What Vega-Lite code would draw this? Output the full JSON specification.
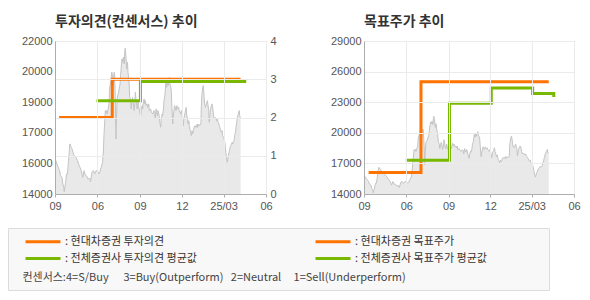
{
  "$schema": "https://vega.github.io/schema/vega-lite/v6.json",
  "padding": {"left": 7, "top": 15, "right": 5, "bottom": 6},
  "background": "white",
  "config": {
    "view": {"stroke": null},
    "axis": {"labelFont": "Liberation Sans", "labelFontSize": 11, "labelColor": "#555555", "title": null, "domainColor": "#adadad", "gridColor": "#ebebeb", "tickColor": "#adadad"},
    "title": {"font": "Noto Sans CJK KR", "fontSize": 14, "fontWeight": "bold", "color": "#333333", "anchor": "start", "frame": "group", "offset": 6}
  },
  "datasets": {
    "price": [
      {"d":"2024-03-01","p":15660},{"d":"2024-03-03","p":15740},{"d":"2024-03-05","p":15570},{"d":"2024-03-08","p":15400},{"d":"2024-03-11","p":15220},{"d":"2024-03-13","p":14960},{"d":"2024-03-16","p":14870},{"d":"2024-03-18","p":14520},{"d":"2024-03-20","p":14350},{"d":"2024-03-21","p":14120},{"d":"2024-03-24","p":14610},{"d":"2024-03-26","p":15050},{"d":"2024-03-28","p":15050},{"d":"2024-03-30","p":15660},
      {"d":"2024-04-01","p":16270},{"d":"2024-04-02","p":16620},{"d":"2024-04-05","p":16440},{"d":"2024-04-07","p":16350},{"d":"2024-04-10","p":16090},{"d":"2024-04-13","p":15970},{"d":"2024-04-15","p":15920},{"d":"2024-04-19","p":15740},{"d":"2024-04-21","p":15570},{"d":"2024-04-24","p":15400},{"d":"2024-04-27","p":15220},{"d":"2024-04-30","p":14870},
      {"d":"2024-05-03","p":15220},{"d":"2024-05-06","p":14960},{"d":"2024-05-09","p":14930},{"d":"2024-05-11","p":14790},{"d":"2024-05-15","p":14820},{"d":"2024-05-17","p":14640},{"d":"2024-05-20","p":15140},{"d":"2024-05-23","p":15220},{"d":"2024-05-26","p":15050},{"d":"2024-05-29","p":15220},
      {"d":"2024-06-01","p":15220},{"d":"2024-06-04","p":15050},{"d":"2024-06-06","p":15140},{"d":"2024-06-09","p":15400},{"d":"2024-06-12","p":15660},{"d":"2024-06-14","p":16350},{"d":"2024-06-15","p":17050},{"d":"2024-06-17","p":17920},{"d":"2024-06-18","p":18360},{"d":"2024-06-19","p":18270},{"d":"2024-06-21","p":18360},{"d":"2024-06-22","p":18180},{"d":"2024-06-24","p":18450},{"d":"2024-06-26","p":18710},{"d":"2024-06-27","p":19490},{"d":"2024-06-30","p":19930},
      {"d":"2024-07-02","p":20370},{"d":"2024-07-04","p":20100},{"d":"2024-07-05","p":19670},{"d":"2024-07-07","p":20370},{"d":"2024-07-08","p":20280},{"d":"2024-07-10","p":18620},{"d":"2024-07-11","p":16880},{"d":"2024-07-13","p":18620},{"d":"2024-07-14","p":19060},{"d":"2024-07-16","p":19230},{"d":"2024-07-18","p":19490},{"d":"2024-07-20","p":19750},{"d":"2024-07-21","p":20190},{"d":"2024-07-23","p":20800},{"d":"2024-07-24","p":21060},{"d":"2024-07-26","p":20890},{"d":"2024-07-27","p":21150},{"d":"2024-07-29","p":20800},{"d":"2024-07-30","p":21410},{"d":"2024-07-31","p":21620},
      {"d":"2024-08-02","p":21060},{"d":"2024-08-03","p":20540},{"d":"2024-08-05","p":20890},{"d":"2024-08-06","p":20370},{"d":"2024-08-08","p":20020},{"d":"2024-08-09","p":19490},{"d":"2024-08-10","p":19060},{"d":"2024-08-12","p":18880},{"d":"2024-08-13","p":18450},{"d":"2024-08-15","p":18880},{"d":"2024-08-16","p":19060},{"d":"2024-08-18","p":18710},{"d":"2024-08-19","p":18360},{"d":"2024-08-21","p":18710},{"d":"2024-08-22","p":19320},{"d":"2024-08-23","p":19060},{"d":"2024-08-25","p":18620},{"d":"2024-08-26","p":18450},{"d":"2024-08-28","p":18880},{"d":"2024-08-29","p":18620},{"d":"2024-08-31","p":18360},
      {"d":"2024-09-01","p":18180},{"d":"2024-09-03","p":18100},{"d":"2024-09-04","p":18450},{"d":"2024-09-06","p":18620},{"d":"2024-09-07","p":18450},{"d":"2024-09-08","p":18710},{"d":"2024-09-10","p":18970},{"d":"2024-09-11","p":18710},{"d":"2024-09-13","p":18880},{"d":"2024-09-14","p":18620},{"d":"2024-09-16","p":18710},{"d":"2024-09-17","p":18620},{"d":"2024-09-18","p":18530},{"d":"2024-09-20","p":18710},{"d":"2024-09-21","p":18360},{"d":"2024-09-24","p":18450},{"d":"2024-09-26","p":18270},{"d":"2024-09-29","p":18180},
      {"d":"2024-10-01","p":18360},{"d":"2024-10-03","p":18270},{"d":"2024-10-04","p":17920},{"d":"2024-10-06","p":18450},{"d":"2024-10-07","p":18270},{"d":"2024-10-09","p":18100},{"d":"2024-10-10","p":18360},{"d":"2024-10-12","p":18180},{"d":"2024-10-13","p":17920},{"d":"2024-10-14","p":17750},{"d":"2024-10-16","p":17490},{"d":"2024-10-17","p":17920},{"d":"2024-10-19","p":18180},{"d":"2024-10-20","p":18100},{"d":"2024-10-22","p":18450},{"d":"2024-10-23","p":18880},{"d":"2024-10-25","p":19140},{"d":"2024-10-26","p":19490},{"d":"2024-10-27","p":19840},{"d":"2024-10-29","p":19580},{"d":"2024-10-30","p":19930},
      {"d":"2024-11-01","p":19670},{"d":"2024-11-02","p":19930},{"d":"2024-11-04","p":20100},{"d":"2024-11-05","p":19750},{"d":"2024-11-07","p":19580},{"d":"2024-11-08","p":19320},{"d":"2024-11-09","p":18620},{"d":"2024-11-11","p":17660},{"d":"2024-11-12","p":18010},{"d":"2024-11-14","p":18450},{"d":"2024-11-15","p":18620},{"d":"2024-11-17","p":18530},{"d":"2024-11-18","p":18360},{"d":"2024-11-20","p":18620},{"d":"2024-11-21","p":18530},{"d":"2024-11-22","p":18450},{"d":"2024-11-24","p":18530},{"d":"2024-11-25","p":18360},{"d":"2024-11-27","p":18270},{"d":"2024-11-28","p":18180},{"d":"2024-11-30","p":18360},
      {"d":"2024-12-01","p":18180},{"d":"2024-12-03","p":17830},{"d":"2024-12-04","p":17570},{"d":"2024-12-05","p":17920},{"d":"2024-12-07","p":18180},{"d":"2024-12-08","p":18270},{"d":"2024-12-10","p":18530},{"d":"2024-12-11","p":18180},{"d":"2024-12-13","p":17920},{"d":"2024-12-14","p":17660},{"d":"2024-12-16","p":17830},{"d":"2024-12-17","p":17570},{"d":"2024-12-18","p":17400},{"d":"2024-12-20","p":17230},{"d":"2024-12-21","p":17050},{"d":"2024-12-23","p":17310},{"d":"2024-12-24","p":17140},{"d":"2024-12-26","p":17310},{"d":"2024-12-27","p":17490},{"d":"2024-12-29","p":17570},{"d":"2024-12-30","p":17490},{"d":"2024-12-31","p":17570},
      {"d":"2025-01-02","p":17490},{"d":"2025-01-03","p":17660},{"d":"2025-01-04","p":17490},{"d":"2025-01-06","p":17660},{"d":"2025-01-08","p":17570},{"d":"2025-01-11","p":17660},{"d":"2025-01-12","p":18620},{"d":"2025-01-13","p":19140},{"d":"2025-01-15","p":19580},{"d":"2025-01-16","p":19670},{"d":"2025-01-17","p":19400},{"d":"2025-01-18","p":19060},{"d":"2025-01-19","p":18710},{"d":"2025-01-21","p":18530},{"d":"2025-01-22","p":18620},{"d":"2025-01-24","p":18800},{"d":"2025-01-25","p":18880},{"d":"2025-01-26","p":18710},{"d":"2025-01-28","p":18360},{"d":"2025-01-29","p":17750},{"d":"2025-01-31","p":18270},
      {"d":"2025-02-01","p":18450},{"d":"2025-02-03","p":18620},{"d":"2025-02-04","p":18710},{"d":"2025-02-06","p":18450},{"d":"2025-02-07","p":18180},{"d":"2025-02-08","p":18010},{"d":"2025-02-10","p":17920},{"d":"2025-02-11","p":18010},{"d":"2025-02-13","p":17920},{"d":"2025-02-14","p":17830},{"d":"2025-02-16","p":17920},{"d":"2025-02-17","p":17750},{"d":"2025-02-19","p":17660},{"d":"2025-02-20","p":17570},{"d":"2025-02-21","p":17490},{"d":"2025-02-23","p":17310},{"d":"2025-02-24","p":17230},{"d":"2025-02-26","p":17310},{"d":"2025-02-27","p":17050},
      {"d":"2025-03-01","p":16960},{"d":"2025-03-02","p":16880},{"d":"2025-03-04","p":16700},{"d":"2025-03-05","p":16440},{"d":"2025-03-06","p":16180},{"d":"2025-03-08","p":15830},{"d":"2025-03-09","p":15660},{"d":"2025-03-11","p":15920},{"d":"2025-03-12","p":16090},{"d":"2025-03-14","p":16270},{"d":"2025-03-15","p":16440},{"d":"2025-03-17","p":16530},{"d":"2025-03-18","p":16620},{"d":"2025-03-20","p":16700},{"d":"2025-03-21","p":16620},{"d":"2025-03-22","p":16700},{"d":"2025-03-24","p":16790},{"d":"2025-03-25","p":17050},{"d":"2025-03-27","p":17230},{"d":"2025-03-28","p":17490},{"d":"2025-03-30","p":17830},{"d":"2025-03-31","p":18010},
      {"d":"2025-04-02","p":18180},{"d":"2025-04-04","p":18360},{"d":"2025-04-05","p":18100},{"d":"2025-04-06","p":18010},{"d":"2025-04-07","p":18010}
    ],
    "opinion": [
      {"d":"2024-03-10","v":2,"s":"현대차증권 투자의견"},
      {"d":"2024-07-03","v":3,"s":"현대차증권 투자의견"},
      {"d":"2025-04-07","v":3,"s":"현대차증권 투자의견"},
      {"d":"2024-05-30","v":2.44,"s":"전체증권사 투자의견 평균값"},
      {"d":"2024-09-02","v":2.94,"s":"전체증권사 투자의견 평균값"},
      {"d":"2025-04-16","v":3.0,"s":"전체증권사 투자의견 평균값"}
    ],
    "target": [
      {"d":"2024-03-11","v":16100,"s":"현대차증권 목표주가"},
      {"d":"2024-07-03","v":25000,"s":"현대차증권 목표주가"},
      {"d":"2025-04-07","v":25000,"s":"현대차증권 목표주가"},
      {"d":"2024-05-31","v":17300,"s":"전체증권사 목표주가 평균값"},
      {"d":"2024-09-03","v":22900,"s":"전체증권사 목표주가 평균값"},
      {"d":"2024-12-03","v":24400,"s":"전체증권사 목표주가 평균값"},
      {"d":"2025-03-03","v":23850,"s":"전체증권사 목표주가 평균값"},
      {"d":"2025-04-18","v":23500,"s":"전체증권사 목표주가 평균값"}
    ]
  },
  "spacing": 53,
  "hconcat": [
    {
      "width": 211,
      "height": 153,
      "title": {"text": "투자의견(컨센서스) 추이"},
      "layer": [
        {
          "data": {"name": "price"},
          "mark": {"type": "area", "color": "#e0e0e0", "clip": true, "line": {"color": "#c4c4c4", "strokeWidth": 1}},
          "encoding": {
            "x": {"field": "d", "type": "temporal",
              "scale": {"type": "utc", "domain": [{"year": 2024, "month": 3, "date": 1, "utc": true}, {"year": 2025, "month": 6, "date": 1, "utc": true}]},
              "axis": {"orient": "bottom", "values": [{"year": 2024, "month": 3, "date": 1, "utc": true}, {"year": 2024, "month": 6, "date": 1, "utc": true}, {"year": 2024, "month": 9, "date": 1, "utc": true}, {"year": 2024, "month": 12, "date": 1, "utc": true}, {"year": 2025, "month": 3, "date": 1, "utc": true}, {"year": 2025, "month": 6, "date": 1, "utc": true}],
                "labelExpr": "utcFormat(datum.value,'%Y-%m')=='2024-03' ? '09' : (utcFormat(datum.value,'%Y-%m')=='2025-03' ? '25/03' : utcFormat(datum.value,'%m'))",
                "grid": true, "zindex": 1, "tickSize": 3, "labelPadding": 3, "labelFlush": false, "labelOverlap": false}},
            "y": {"field": "p", "type": "quantitative",
              "scale": {"domain": [14000, 22000], "nice": false, "zero": false},
              "axis": {"orient": "left", "values": [14000, 15600, 17200, 18800, 20400, 22000], "labelExpr": "format(round(datum.value/1000)*1000,'d')", "grid": false, "ticks": false, "labelPadding": 3, "labelOverlap": false, "zindex": 1}}
          }
        },
        {
          "data": {"name": "opinion"},
          "mark": {"type": "line", "interpolate": "step-after", "strokeWidth": 3},
          "encoding": {
            "x": {"field": "d", "type": "temporal",
              "axis": {"orient": "top", "labels": false, "ticks": false, "grid": false, "domain": true}},
            "y": {"field": "v", "type": "quantitative",
              "scale": {"domain": [0, 4], "nice": false, "zero": false},
              "axis": {"orient": "right", "values": [0, 1, 2, 3, 4], "format": "d", "grid": true, "domain": false, "ticks": false, "labelPadding": 4, "labelOverlap": false, "zindex": 1}},
            "color": {"field": "s", "type": "nominal", "title": null,
              "scale": {"domain": ["현대차증권 투자의견", "전체증권사 투자의견 평균값", "현대차증권 목표주가", "전체증권사 목표주가 평균값"], "range": ["#ff7300", "#78b900", "#ff7300", "#78b900"]},
              "legend": {"orient": "none", "legendX": -47, "legendY": 187, "zindex": 2, "direction": "vertical", "columns": 2, "columnPadding": 108, "rowPadding": 4,
                "symbolType": "M-3.5,0H3.5", "symbolSize": 100, "symbolStrokeWidth": 3, "symbolOffset": 21.5, "labelOffset": 15.5,
                "labelFont": "Noto Sans CJK KR", "labelFontSize": 11, "labelColor": "#333333", "labelLimit": 300,
                "labelExpr": "': ' + datum.label",
                "padding": 7}},
            "strokeDash": {"datum": "consensus",
              "title": "\u200b\u00a0\u00a0\u00a0컨센서스:4=S/Buy\u00a0\u00a0\u00a0\u00a0\u00a0\u00a03=Buy(Outperform)\u00a0\u00a0\u00a02=Neutral\u00a0\u00a0\u00a0\u00a0\u00a01=Sell(Underperform)",
              "scale": {"range": [[1, 0]]},
              "legend": {"orient": "none", "legendX": -47, "legendY": 187, "zindex": 0,
                "titleOrient": "left", "titleAnchor": "end", "titlePadding": 88,
                "titleFont": "Noto Sans CJK KR", "titleFontSize": 11, "titleFontWeight": "normal", "titleColor": "#444444", "titleLimit": 600,
                "symbolType": "square", "symbolSize": 2304, "symbolOpacity": 0, "symbolStrokeWidth": 0, "symbolStrokeColor": "transparent", "symbolFillColor": "transparent",
                "labelExpr": "''", "labelOffset": 0,
                "padding": 7, "fillColor": "#f8f8f8", "strokeColor": "#dcdcdc"}}
          }
        }
      ],
      "resolve": {"scale": {"y": "independent"}, "axis": {"x": "independent"}}
    },
    {
      "width": 210,
      "height": 153,
      "title": {"text": "목표주가 추이"},
      "layer": [
        {
          "data": {"name": "price"},
          "mark": {"type": "area", "color": "#e0e0e0", "clip": true, "line": {"color": "#c4c4c4", "strokeWidth": 1}},
          "encoding": {
            "x": {"field": "d", "type": "temporal",
              "scale": {"type": "utc", "domain": [{"year": 2024, "month": 3, "date": 1, "utc": true}, {"year": 2025, "month": 6, "date": 1, "utc": true}]},
              "axis": {"orient": "bottom", "values": [{"year": 2024, "month": 3, "date": 1, "utc": true}, {"year": 2024, "month": 6, "date": 1, "utc": true}, {"year": 2024, "month": 9, "date": 1, "utc": true}, {"year": 2024, "month": 12, "date": 1, "utc": true}, {"year": 2025, "month": 3, "date": 1, "utc": true}, {"year": 2025, "month": 6, "date": 1, "utc": true}],
                "labelExpr": "utcFormat(datum.value,'%Y-%m')=='2024-03' ? '09' : (utcFormat(datum.value,'%Y-%m')=='2025-03' ? '25/03' : utcFormat(datum.value,'%m'))",
                "grid": true, "zindex": 1, "tickSize": 3, "labelPadding": 3, "labelFlush": false, "labelOverlap": false}},
            "y": {"field": "p", "type": "quantitative",
              "scale": {"domain": [14000, 29000], "nice": false, "zero": false},
              "axis": {"orient": "left", "values": [14000, 17000, 20000, 23000, 26000, 29000], "format": "d", "grid": true, "ticks": false, "labelPadding": 3, "labelOverlap": false, "zindex": 1}}
          }
        },
        {
          "data": {"name": "target"},
          "mark": {"type": "line", "interpolate": "step-after", "strokeWidth": 3},
          "encoding": {
            "x": {"field": "d", "type": "temporal",
              "axis": {"orient": "top", "labels": false, "ticks": false, "grid": false, "domain": true}},
            "y": {"field": "v", "type": "quantitative",
              "axis": {"orient": "left", "values": [14000, 17000, 20000, 23000, 26000, 29000], "format": "d", "grid": true, "ticks": false, "labelPadding": 3, "labelOverlap": false, "zindex": 1}},
            "color": {"field": "s", "type": "nominal", "title": null,
              "scale": {"domain": ["현대차증권 투자의견", "전체증권사 투자의견 평균값", "현대차증권 목표주가", "전체증권사 목표주가 평균값"], "range": ["#ff7300", "#78b900", "#ff7300", "#78b900"]}}
          }
        }
      ],
      "resolve": {"axis": {"x": "independent"}}
    }
  ]
}
